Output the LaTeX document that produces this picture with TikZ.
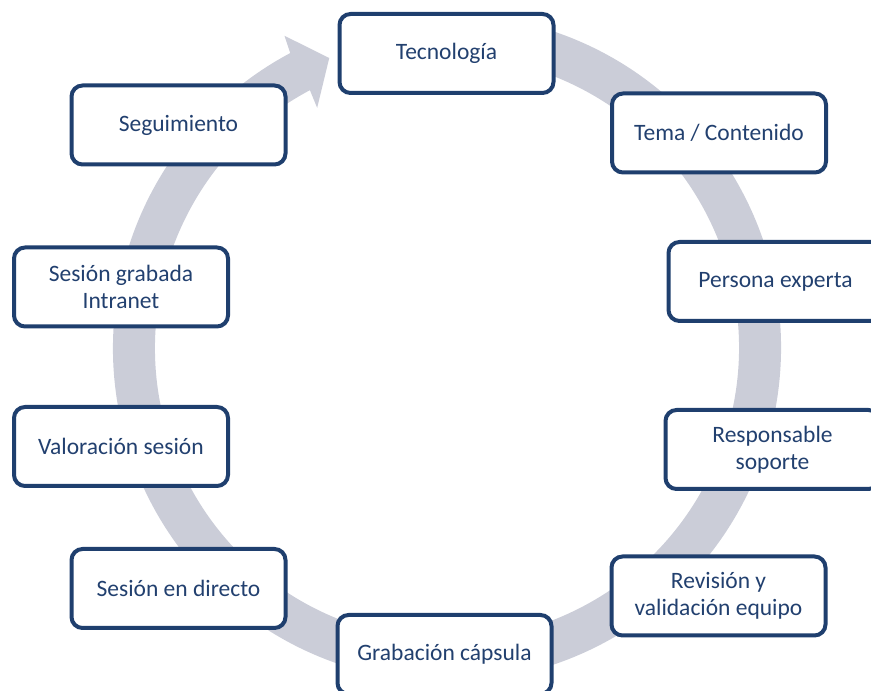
\documentclass[tikz,border=0pt]{standalone}
\usepackage{fontspec}
\setmainfont{Carlito}
\definecolor{boxblue}{HTML}{1F3F6E}
\definecolor{txtblue}{HTML}{22406F}
\definecolor{arcgray}{HTML}{CBCDD8}
\begin{document}
\begin{tikzpicture}[x=1pt,y=1pt,
  paso/.style={draw=boxblue, line width=4pt, fill=white, rounded corners=11pt,
    minimum width=214pt, minimum height=79pt, align=center, text=txtblue,
    font=\fontsize{23.5pt}{27pt}\selectfont}]

\useasboundingbox (0,0) rectangle (871,691);
\clip (0,0) rectangle (871,691);

% circular arrow
\fill [arcgray, shift={(447,343)}] (80:334) arc [start angle=80, end angle=-242, radius=334]
  -- (-242.5:352) -- (-247.9:313) -- (-241.6:273) -- (-242:292)
  arc [start angle=-242, end angle=80, radius=292] -- cycle;

\node [paso] (tec) at (446.5,637.5) {Tecnología};
\node [paso] (tema) at (719,558) {Tema / Contenido};
\node [paso] (pers) at (775.5,409.5) {Persona experta};
\node [paso] (resp) at (772.5,241.5) {Responsable\\soporte};
\node [paso] (rev) at (718.5,95) {Revisión y\\validación equipo};
\node [paso] (grab) at (444.5,36.5) {Grabación cápsula};
\node [paso] (dir) at (178.5,102.5) {Sesión en directo};
\node [paso] (val) at (121,244.5) {Valoración sesión};
\node [paso] (intra) at (121,404) {Sesión grabada\\Intranet};
\node [paso] (seg) at (178.5,566) {Seguimiento};
\end{tikzpicture}
\end{document}
